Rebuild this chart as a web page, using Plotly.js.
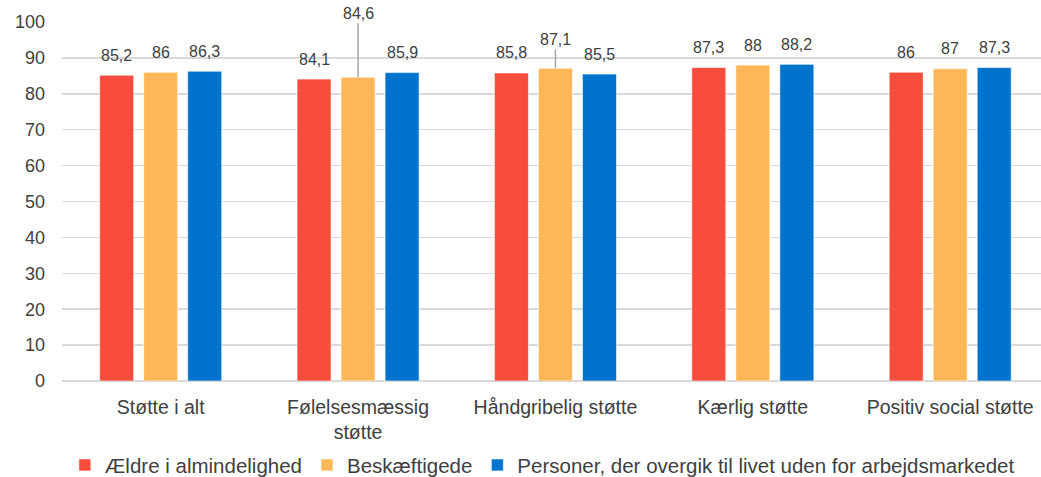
<!DOCTYPE html>
<html>
<head>
<meta charset="utf-8">
<script src="https://cdn.plot.ly/plotly-3.0.1.min.js"></script>
<style>
  html, body { margin: 0; padding: 0; background: #fff; }
  #chart { width: 1041px; height: 477px; }
</style>
</head>
<body>
<div id="chart"></div>
<script>
// categories and series
const categories = ['Støtte i alt', 'Følelsesmæssig<br>støtte', 'Håndgribelig støtte', 'Kærlig støtte', 'Positiv social støtte'];
const seriesNames = ['Ældre i almindelighed', 'Beskæftigede', 'Personer, der overgik til livet uden for arbejdsmarkedet'];
const aeldre = [85.2, 84.1, 85.8, 87.3, 86];
const beskaeftigede = [86, 84.6, 87.1, 88, 87];
const personer = [86.3, 85.9, 85.5, 88.2, 87.3];
const yTicks = [0, 10, 20, 30, 40, 50, 60, 70, 80, 90, 100];

const colors = ['#f84c3c', '#ffb757', '#0074cd'];
const allSeries = [aeldre, beskaeftigede, personer];

const fmt = v => String(v).replace('.', ',');

const traces = allSeries.map((vals, i) => ({
  x: categories,
  y: vals,
  type: 'bar',
  name: seriesNames[i],
  marker: { color: colors[i], line: { color: 'rgba(255,255,255,0.6)', width: 1 } },
  hoverinfo: 'skip'
}));

// value labels; two of them are lifted with a leader line
const lifted = { '1-1': -64, '1-2': -29 };
const annotations = [];
allSeries.forEach((vals, i) => {
  vals.forEach((v, j) => {
    const key = i + '-' + j;
    const a = {
      x: categories[j], y: v, xref: 'x', yref: 'y',
      text: fmt(v),
      xshift: (i - 1) * 44,
      font: { family: 'Liberation Sans, Arial, sans-serif', size: 16, color: '#404040' }
    };
    if (lifted[key] !== undefined) {
      a.showarrow = true;
      a.arrowhead = 0;
      a.arrowwidth = 1.5;
      a.arrowcolor = '#a6a6a6';
      a.ax = 0;
      a.ay = lifted[key];
      a.standoff = 0;
    } else {
      a.showarrow = false;
      a.yanchor = 'middle';
      a.yshift = 20;
    }
    annotations.push(a);
  });
});

const layout = {
  width: 1041,
  height: 477,
  margin: { l: 62, r: 0, t: 22, b: 96 },
  paper_bgcolor: '#ffffff',
  plot_bgcolor: '#ffffff',
  barmode: 'group',
  bargap: 0.331,
  bargroupgap: 0.227,
  font: { family: 'Liberation Sans, Arial, sans-serif', color: '#404040' },
  xaxis: {
    type: 'category',
    range: [-0.5, 4.46],
    showgrid: false,
    showline: false,
    ticks: '',
    tickfont: { size: 19.5, color: '#404040' },
    ticklabelstandoff: 12
  },
  yaxis: {
    range: [0, 100],
    tickvals: yTicks,
    ticktext: yTicks.map(String),
    showgrid: true,
    gridcolor: '#d9d9d9',
    gridwidth: 1.5,
    zeroline: true,
    zerolinecolor: '#d9d9d9',
    zerolinewidth: 2,
    showline: false,
    ticks: '',
    tickfont: { size: 18, color: '#404040' },
    ticklabelstandoff: 16
  },
  showlegend: true,
  legend: {
    orientation: 'h',
    xref: 'container', yref: 'container',
    x: 0.521, xanchor: 'center',
    y: 0.025, yanchor: 'middle',
    font: { size: 20.5, color: '#404040' },
    itemwidth: 30,
    tracegroupgap: 0
  },
  annotations: annotations
};

Plotly.newPlot('chart', traces, layout, { displayModeBar: false, staticPlot: true });
</script>
</body>
</html>
